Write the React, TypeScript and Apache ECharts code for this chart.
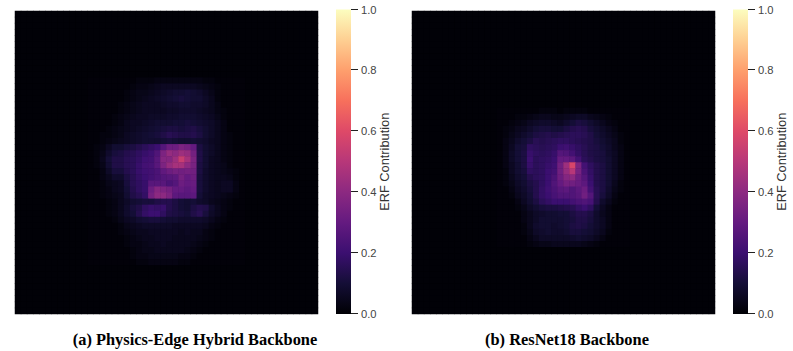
import React, { useEffect, useRef } from "react";
import * as echarts from "echarts";

const gridSize = 50;
const background = 0.5;
const leftRowStart = 11;
const leftColStart = 12;
const leftRows = [
  [1,1,1,1,1,1,1,1,2,2,2,3,3,3,3,3,3,3,3,2,2,1,1,1,1,1],
  [1,1,1,1,1,1,1,2,3,3,4,5,6,6,6,6,6,6,5,4,3,2,1,1,1,1],
  [1,1,1,1,1,1,2,3,4,4,5,6,7,8,9,9,10,9,8,6,4,2,1,1,1,1],
  [1,1,1,1,1,1,2,3,4,5,6,7,8,9,10,11,10,9,9,7,5,2,1,1,1,1],
  [1,1,1,1,1,2,3,4,5,6,6,6,7,8,8,9,9,8,8,7,5,3,1,1,1,1],
  [1,1,1,1,1,2,3,4,5,6,6,6,6,7,7,8,8,8,7,6,5,3,2,1,1,1],
  [1,1,1,1,2,3,4,5,6,6,7,7,7,8,8,9,9,9,8,7,6,4,2,1,1,1],
  [1,1,1,1,2,3,5,6,6,7,8,9,9,9,10,10,11,10,9,8,7,5,3,1,1,1],
  [1,1,1,2,3,4,5,6,7,8,9,10,11,12,12,11,12,13,11,9,7,5,3,1,1,1],
  [1,1,2,2,3,4,6,7,8,9,10,11,13,15,14,13,13,14,12,9,7,5,3,2,1,1],
  [1,1,2,3,4,5,6,7,8,9,9,9,10,11,10,9,9,10,9,8,6,5,3,2,1,1],
  [1,2,3,6,9,9,11,12,14,16,18,20,26,32,32,36,34,30,12,9,7,5,3,2,1,1],
  [1,2,4,8,11,12,14,15,17,19,21,25,36,42,40,44,42,34,13,9,7,5,3,2,1,1],
  [1,2,5,10,13,13,15,16,18,21,22,27,38,38,44,54,46,36,13,9,6,5,3,2,1,1],
  [1,2,4,9,13,13,15,16,19,22,23,27,36,42,46,46,40,35,12,9,6,5,4,2,1,1],
  [1,1,3,7,11,11,14,16,19,21,22,24,29,32,34,33,34,33,12,8,6,5,4,3,2,1],
  [1,1,3,5,8,8,12,15,18,20,22,24,26,27,28,34,30,32,11,8,6,5,5,4,2,1],
  [1,1,2,4,5,6,11,15,17,19,27,27,27,24,26,32,30,31,11,8,6,5,6,6,3,1],
  [1,1,2,3,5,6,10,14,17,19,32,38,36,34,30,30,28,30,11,8,6,5,6,6,3,1],
  [1,1,2,3,4,5,9,13,15,18,34,40,40,36,28,27,27,28,10,7,6,5,4,3,2,1],
  [1,1,1,2,3,5,7,9,10,11,11,13,14,14,12,10,9,10,8,7,5,4,3,2,1,1],
  [1,1,1,2,3,5,8,11,13,17,19,18,19,14,12,10,9,12,14,13,8,5,3,2,1,1],
  [1,1,1,2,3,5,8,10,14,18,20,20,17,13,12,11,10,13,15,11,7,5,3,1,1,1],
  [1,1,1,1,2,4,6,7,9,10,11,11,10,9,9,8,8,8,8,7,5,3,2,1,1,1],
  [1,1,1,1,1,2,4,5,6,7,7,7,7,7,6,6,6,6,6,5,3,2,1,1,1,1],
  [1,1,1,1,1,2,3,4,5,5,6,6,6,6,6,5,6,5,5,3,2,1,1,1,1,1],
  [1,1,1,1,1,1,2,3,4,5,5,6,6,6,5,5,5,5,4,3,2,1,1,1,1,1],
  [1,1,1,1,1,1,2,3,3,4,5,5,6,5,5,5,5,4,3,2,1,1,1,1,1,1],
  [1,1,1,1,1,1,1,2,3,4,4,5,5,5,5,5,4,3,2,1,1,1,1,1,1,1],
  [1,1,1,1,1,1,1,2,3,3,4,4,4,4,4,3,3,2,1,1,1,1,1,1,1,1],
  [1,1,1,1,1,1,1,1,2,2,3,3,3,3,3,2,2,1,1,1,1,1,1,1,1,1],
];
const rightRowStart = 16;
const rightColStart = 14;
const rightRows = [
  [1,1,1,1,1,1,1,2,2,2,1,2,2,2,2,1,1,1,1,1,1,1],
  [1,1,1,2,2,3,4,5,5,4,4,5,6,7,7,5,4,3,2,1,1,1],
  [1,1,2,3,4,6,7,8,8,7,6,8,10,12,11,9,7,5,3,2,1,1],
  [1,2,3,5,6,8,10,11,11,10,10,12,14,15,14,11,9,7,5,3,1,1],
  [1,2,4,6,8,10,12,13,14,13,14,15,16,16,15,13,10,8,6,4,2,1],
  [1,3,5,8,10,12,15,14,15,16,17,17,16,15,14,13,11,9,7,5,2,1],
  [1,3,6,10,11,17,16,15,16,17,20,21,19,17,15,13,12,10,8,5,3,1],
  [1,3,7,10,12,19,17,16,17,19,26,25,22,18,15,13,12,11,8,6,3,1],
  [1,3,7,10,12,20,16,17,18,20,30,30,28,22,16,14,12,11,9,6,3,1],
  [1,3,6,9,12,19,16,17,19,21,33,44,58,36,22,17,14,12,9,6,3,1],
  [1,2,6,9,11,17,16,17,20,22,33,42,50,35,24,18,14,12,9,6,3,1],
  [1,2,5,8,10,14,16,17,20,24,32,38,40,32,26,19,14,12,9,6,3,1],
  [1,2,4,7,9,12,14,17,20,25,30,34,33,31,28,20,14,12,9,5,2,1],
  [1,1,3,6,8,11,14,18,21,24,27,28,25,28,32,22,15,12,8,4,2,1],
  [1,1,2,5,7,10,14,18,20,23,25,25,25,27,33,26,15,11,7,3,1,1],
  [1,1,1,3,6,9,12,16,18,20,20,20,22,24,25,23,14,8,5,2,1,1],
  [1,1,1,2,4,7,9,11,12,12,13,14,15,18,20,17,10,6,3,1,1,1],
  [1,1,1,1,3,5,7,8,9,9,10,10,12,14,14,12,8,5,3,1,1,1],
  [1,1,1,1,3,5,7,9,9,9,9,10,11,13,13,11,8,6,3,1,1,1],
  [1,1,1,1,2,5,8,9,9,8,9,10,12,13,12,10,8,6,3,1,1,1],
  [1,1,1,1,2,4,7,8,9,8,8,9,11,11,10,9,7,5,2,1,1,1],
  [1,1,1,1,1,3,5,7,7,7,7,7,8,9,8,7,5,3,1,1,1,1],
  [1,1,1,1,1,2,3,4,4,5,5,5,5,5,4,3,2,1,1,1,1,1],
];
const magma = ["#000004","#140e36","#3b0f70","#641a80","#8c2981","#b73779","#de4968","#f7705c","#fe9f6d","#fecf92","#fcfdbf"];
const captions = ["(a) Physics-Edge Hybrid Backbone", "(b) ResNet18 Backbone"];
const colorbarLabel = "ERF Contribution";
const colorbarMax = [1];
const colorbarTicks = [0, 0.2, 0.4, 0.6, 0.8, 1];

const cells = (rows: number[][], r0: number, c0: number) => {
  const out: number[][] = [];
  for (let r = 0; r < gridSize; r++) {
    for (let c = 0; c < gridSize; c++) {
      const v = rows[r - r0]?.[c - c0] ?? background;
      out.push([c, r, v / 100]);
    }
  }
  return out;
};
const cats = Array.from({ length: gridSize }, (_, i) => String(i));

const panels = [
  { left: 15, cbLeft: 336, data: cells(leftRows, leftRowStart, leftColStart), capX: 195 },
  { left: 412, cbLeft: 733, data: cells(rightRows, rightRowStart, rightColStart), capX: 567 },
];

export default function App() {
  const ref = useRef<HTMLDivElement>(null);
  useEffect(() => {
    const chart = echarts.init(ref.current!, null, { renderer: "svg" });
    const grid: any[] = [];
    const xAxis: any[] = [];
    const yAxis: any[] = [];
    const series: any[] = [];
    const graphic: any[] = [];
    panels.forEach((p, i) => {
      const gi = grid.length;
      grid.push({ left: p.left, top: 11, width: 303, height: 303, backgroundColor: "#000004", show: true, borderWidth: 0 });
      xAxis.push({ type: "category", gridIndex: gi, data: cats, show: false });
      yAxis.push({ type: "category", gridIndex: gi, data: cats, inverse: true, show: false });
      series.push({ type: "heatmap", xAxisIndex: gi, yAxisIndex: gi, data: p.data, itemStyle: { borderWidth: 0 }, emphasis: { disabled: true } });
      const bi = grid.length;
      grid.push({ left: p.cbLeft, top: 9.5, width: 15, height: 304.5 });
      xAxis.push({ type: "category", gridIndex: bi, data: [""], show: false });
      yAxis.push({
        type: "value", gridIndex: bi, min: 0, max: 1, interval: 0.2, position: "right",
        name: colorbarLabel, nameLocation: "middle", nameGap: 27, nameRotate: 90, nameMoveOverlap: false,
        nameTextStyle: { fontFamily: "Liberation Sans", fontSize: 12.8, color: "#333" },
        axisLine: { show: false },
        axisTick: { show: false },
        axisLabel: { fontFamily: "Liberation Sans", fontSize: 11.2, color: "#444", margin: 10, formatter: (v: number) => v.toFixed(1) },
        splitLine: { show: false },
      });
      series.push({
        type: "bar", xAxisIndex: bi, yAxisIndex: bi, data: colorbarMax, barWidth: "100%", silent: true,
        itemStyle: {
          color: new echarts.graphic.LinearGradient(0, 1, 0, 0, magma.map((c, k) => ({ offset: k / (magma.length - 1), color: c }))),
        },
      });
      graphic.push({
        type: "text", x: p.capX, y: 339,
        style: { text: captions[i], fontFamily: "Liberation Serif", fontWeight: "bold", fontSize: 16.4, fill: "#000", align: "center", verticalAlign: "middle" },
      });
    });
    const base = {
      animation: false,
      backgroundColor: "#fff",
      grid, xAxis, yAxis, series,
      visualMap: { show: false, type: "continuous", min: 0, max: 1, seriesIndex: [0, 2], inRange: { color: magma } },
    };
    chart.setOption(base);
    panels.forEach((p, i) => {
      colorbarTicks.forEach((t) => {
        const y = Math.round(chart.convertToPixel({ yAxisIndex: i * 2 + 1 }, t)) - 0.5;
        const x = p.cbLeft + 15;
        graphic.push({ type: "line", shape: { x1: x, y1: y, x2: x + 7, y2: y }, style: { stroke: "#222", lineWidth: 1 }, silent: true });
      });
    });
    chart.setOption({ graphic });
    return () => chart.dispose();
  }, []);
  return <div ref={ref} style={{ position: "fixed", left: 0, top: 0, width: 793, height: 351 }} />;
}
